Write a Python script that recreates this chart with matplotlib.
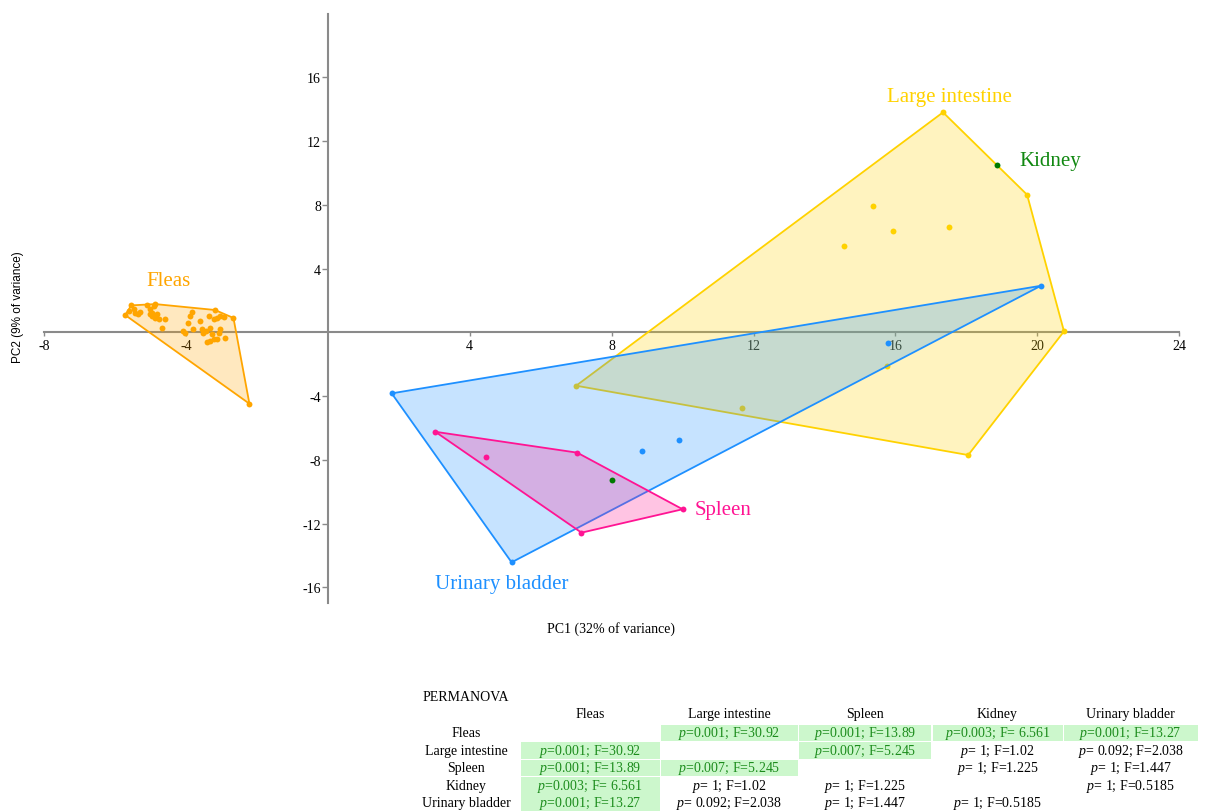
import matplotlib
matplotlib.use("Agg")
import matplotlib.pyplot as plt
from matplotlib.patches import Polygon, Rectangle
import numpy as np

plt.rcParams['font.family'] = ['Liberation Serif', 'DejaVu Serif']
plt.rcParams['mathtext.fontset'] = 'custom'
plt.rcParams['mathtext.rm'] = 'Liberation Serif'
plt.rcParams['mathtext.it'] = 'Liberation Serif:italic'

# ---------------- data ----------------
fleas_x = [-5.71, -5.61, -5.54, -5.47, -5.43, -5.36, -5.29, -5.10, -5.00, -4.96, -4.91, -4.86,
           -4.82, -4.96, -4.86, -4.77, -4.68, -4.58, -5.00,
           -3.83, -3.88, -3.95, -4.02, -4.07, -3.79, -3.60, -3.55, -3.51, -3.43, -3.36, -3.32,
           -3.27, -3.22, -3.18, -3.13, -3.08, -3.04, -3.04, -3.22, -3.32, -3.41, -3.13, -2.90,
           -2.94, -2.66, -2.21]
fleas_y = [1.08, 1.33, 1.69, 1.44, 1.23, 1.17, 1.27, 1.69, 1.44, 1.23, 1.65, 1.77,
           1.13, 1.02, 0.92, 0.81, 0.29, 0.85, 1.13,
           1.27, 1.02, 0.60, -0.02, 0.08, 0.19, 0.71, 0.23, -0.02, 0.08, 1.02, 0.29,
           -0.13, 0.81, 1.40, 0.92, -0.02, 1.02, 0.19, -0.44, -0.54, -0.60, -0.44, -0.38,
           0.98, 0.90, -4.48]

li_x = [17.34, 19.71, 20.75, 18.05, 7.00, 15.37, 14.54, 15.92, 17.52, 15.76, 11.68]
li_y = [13.80, 8.63, 0.06, -7.70, -3.35, 7.94, 5.43, 6.36, 6.62, -2.13, -4.75]

ub_x = [1.80, 5.18, 20.10, 8.86, 9.89, 15.80]
ub_y = [-3.83, -14.43, 2.92, -7.45, -6.78, -0.67]

sp_x = [3.03, 7.03, 10.00, 7.15, 4.45]
sp_y = [-6.24, -7.55, -11.10, -12.57, -7.84]

kid_x = [18.87, 8.01]
kid_y = [10.50, -9.28]

x_ticks = [-8, -4, 4, 8, 12, 16, 20, 24]
y_ticks = [-16, -12, -8, -4, 4, 8, 12, 16]

groups = ["Fleas", "Large intestine", "Spleen", "Kidney", "Urinary bladder"]
p_vals = [
    [None, 0.001, 0.001, 0.003, 0.001],
    [0.001, None, 0.007, 1, 0.092],
    [0.001, 0.007, None, 1, 1],
    [0.003, 1, 1, None, 1],
    [0.001, 0.092, 1, 1, None],
]
cell_text = [
    ["", "p=0.001; F=30.92", "p=0.001; F=13.89", "p=0.003; F= 6.561", "p=0.001; F=13.27"],
    ["p=0.001; F=30.92", "", "p=0.007; F=5.245", "p= 1; F=1.02", "p= 0.092; F=2.038"],
    ["p=0.001; F=13.89", "p=0.007; F=5.245", "", "p= 1; F=1.225", "p= 1; F=1.447"],
    ["p=0.003; F= 6.561", "p= 1; F=1.02", "p= 1; F=1.225", "", "p= 1; F=0.5185"],
    ["p=0.001; F=13.27", "p= 0.092; F=2.038", "p= 1; F=1.447", "p= 1; F=0.5185", ""],
]

# ---------------- figure ----------------
W, H = 1205, 812
fig = plt.figure(figsize=(W / 100, H / 100), dpi=100)
ax = fig.add_axes([44 / W, 1 - 603.5 / H, 1135.3 / W, 589 / H])
ax.set_xlim(-8, 24)
ax.set_ylim(-16.95, 20.0)


def hull(xs, ys):
    pts = sorted(set(zip(xs, ys)))
    if len(pts) < 3:
        return pts

    def cross(o, a, b):
        return (a[0] - o[0]) * (b[1] - o[1]) - (a[1] - o[1]) * (b[0] - o[0])
    lower, upper = [], []
    for p in pts:
        while len(lower) >= 2 and cross(lower[-2], lower[-1], p) <= 0:
            lower.pop()
        lower.append(p)
    for p in reversed(pts):
        while len(upper) >= 2 and cross(upper[-2], upper[-1], p) <= 0:
            upper.pop()
        upper.append(p)
    return lower[:-1] + upper[:-1]


series = [
    (fleas_x, fleas_y, '#FFA500', 2),
    (li_x, li_y, '#FFD200', 3),
    (ub_x, ub_y, '#1E90FF', 4),
    (sp_x, sp_y, '#FF1493', 5),
]
for xs, ys, col, z in series:
    h = hull(xs, ys)
    ax.add_patch(Polygon(h, closed=True, facecolor=col, alpha=0.25, edgecolor='none', zorder=z))
    ax.add_patch(Polygon(h, closed=True, facecolor='none', edgecolor=col, lw=1.3, zorder=z))
    ax.scatter(xs, ys, s=18, color=col, zorder=z + 0.5, linewidths=0)
ax.scatter(kid_x, kid_y, s=18, color='#007A00', zorder=6, linewidths=0)

# group labels
lab_fs = 15
ax.text(-4.5, 3.22, "Fleas", color='#FFA500', fontsize=lab_fs, ha='center', va='center')
ax.text(17.53, 14.8, "Large intestine", color='#FFD200', fontsize=lab_fs, ha='center', va='center')
ax.text(19.48, 10.75, "Kidney", color='#118811', fontsize=lab_fs, ha='left', va='center')
ax.text(10.35, -11.12, "Spleen", color='#FF1493', fontsize=lab_fs, ha='left', va='center')
ax.text(4.89, -15.78, "Urinary bladder", color='#1E90FF', fontsize=lab_fs, ha='center', va='center')

# axes through the origin
for s in ['top', 'right']:
    ax.spines[s].set_visible(False)
ax.spines['left'].set_position(('data', 0))
ax.spines['bottom'].set_position(('data', 0))
for s in ['left', 'bottom']:
    ax.spines[s].set_color('#8a8a8a')
    ax.spines[s].set_linewidth(1.5)
    ax.spines[s].set_zorder(1)
ax.set_xticks(x_ticks)
ax.set_yticks(y_ticks)
ax.set_xticklabels([str(t) for t in x_ticks])
ax.set_yticklabels([str(t) for t in y_ticks])
ax.tick_params(axis='x', direction='out', length=3, width=1, color='#8a8a8a', pad=2, labelsize=10)
ax.tick_params(axis='y', direction='out', length=4, width=1, color='#8a8a8a', pad=1, labelsize=10)
ax.set_facecolor('none')

# axis titles
fig.text(611 / W, 1 - 629 / H, "PC1 (32% of variance)", ha='center', va='center', fontsize=10)
fig.text(18 / W, 1 - 307 / H, "PC2 (9% of variance)", ha='center', va='center', fontsize=8.5,
         rotation=90, family=['Liberation Sans', 'DejaVu Sans'])

# ---------------- PERMANOVA table ----------------
tfs = 10
col_edges = [520, 660, 798, 932, 1063, 1198]
row_centers = [734, 751.5, 769, 786.5, 803.5]
row_h = 16.5
header_y = 715
rowlab_x = 466

fig.text(423 / W, 1 - 698 / H, "PERMANOVA", ha='left', va='center', fontsize=tfs)
for j, g in enumerate(groups):
    cx = (col_edges[j] + col_edges[j + 1]) / 2
    fig.text(cx / W, 1 - header_y / H, g, ha='center', va='center', fontsize=tfs)
for i, g in enumerate(groups):
    yc = row_centers[i]
    fig.text(rowlab_x / W, 1 - yc / H, g, ha='center', va='center', fontsize=tfs)
    for j in range(len(groups)):
        txt = cell_text[i][j]
        if not txt:
            continue
        x0, x1 = col_edges[j] + 0.5, col_edges[j + 1] - 0.5
        cx = (x0 + x1) / 2
        sig = p_vals[i][j] is not None and p_vals[i][j] < 0.05
        if sig:
            fig.patches.append(Rectangle((x0 / W, 1 - (yc + row_h / 2) / H), (x1 - x0) / W, row_h / H,
                                         transform=fig.transFigure, facecolor='#CCF7CC',
                                         edgecolor='none', zorder=0))
        label = r"$\it{p}$" + txt[1:]
        fig.text(cx / W, 1 - yc / H, label, ha='center', va='center', fontsize=tfs,
                 color='#1C8C1C' if sig else 'black', zorder=2)

fig.savefig("out.png", dpi=100)
